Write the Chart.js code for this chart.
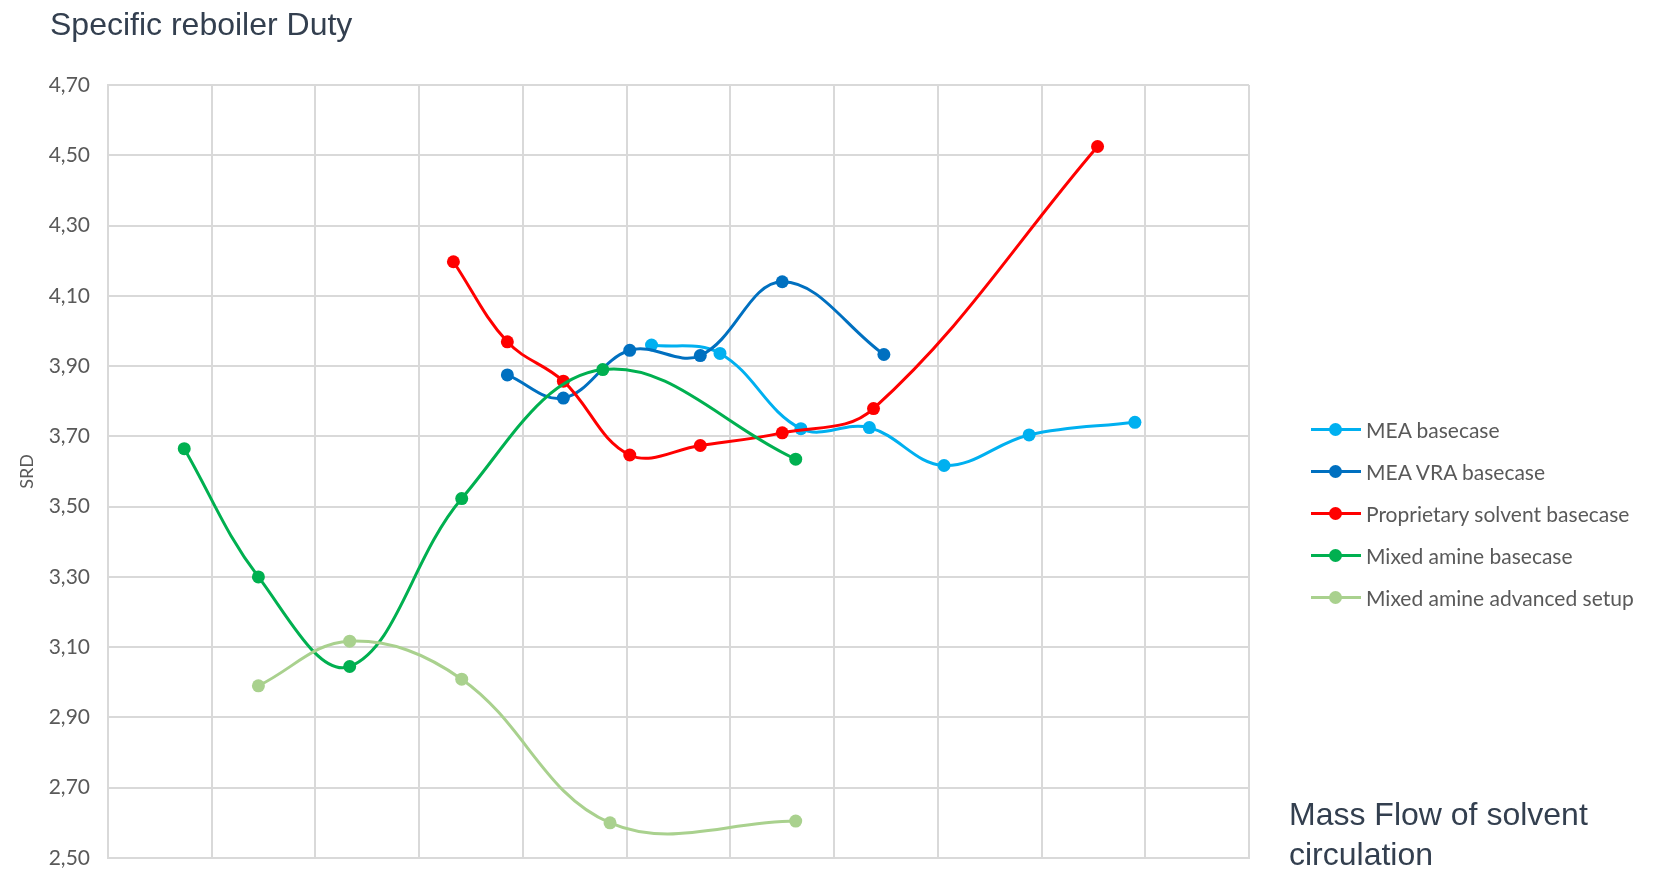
<!DOCTYPE html>
<html>
<head>
<meta charset="utf-8">
<script src="https://cdn.jsdelivr.net/npm/chart.js@4/dist/chart.umd.min.js"></script>
<style>
  body { margin: 0; background: #fff; }
  #wrap { position: relative; width: 1660px; height: 870px; overflow: hidden; }
  #myChart { position: absolute; left: 0; top: 0; }
  .bigText { position: absolute; font-family: "Liberation Sans", Arial, sans-serif; font-size: 32px; line-height: 40px; color: #333f4f; white-space: nowrap; }
  #legend { position: absolute; left: 1311px; top: 408px; font-family: Lato, sans-serif; font-size: 21px; color: #595959; }
  .item { position: relative; height: 42.1px; display: flex; align-items: center; white-space: nowrap; }
  .swatch { position: relative; width: 50px; height: 3px; margin-right: 5px; }
  .swatch span { position: absolute; left: 18px; top: -5px; width: 13px; height: 13px; border-radius: 50%; }
</style>
</head>
<body>
<div id="wrap">
  <canvas id="myChart" width="1660" height="870"></canvas>
  <div class="bigText" style="left:50px; top:4px;">Specific reboiler Duty</div>
  <div class="bigText" style="left:1289px; top:794px;">Mass Flow of solvent<br>circulation</div>
  <div id="legend"></div>
</div>
<script>
// Series names and colours
const seriesNames = ['MEA basecase', 'MEA VRA basecase', 'Proprietary solvent basecase', 'Mixed amine basecase', 'Mixed amine advanced setup'];
const seriesColors = ['#00B0F0', '#0070C0', '#FF0000', '#00B050', '#A9D18E'];

// Mass flow positions (x, in grid columns) and SRD values
const meaX = [5.24, 5.90, 6.68, 7.34, 8.06, 8.88, 9.90];
const meaY = [3.96, 3.936, 3.722, 3.725, 3.617, 3.704, 3.74];

const vraX = [3.85, 4.39, 5.03, 5.71, 6.50, 7.48];
const vraY = [3.875, 3.809, 3.945, 3.93, 4.14, 3.933];

const propX = [3.33, 3.85, 4.39, 5.03, 5.71, 6.50, 7.38, 9.54];
const propY = [4.197, 3.969, 3.857, 3.647, 3.674, 3.71, 3.779, 4.525];

const mixX = [0.735, 1.45, 2.33, 3.41, 4.77, 6.63];
const mixY = [3.665, 3.30, 3.045, 3.523, 3.89, 3.635];

const advX = [1.45, 2.33, 3.41, 4.84, 6.63];
const advY = [2.99, 3.117, 3.009, 2.60, 2.605];

// Y axis tick labels
const yTicks = ['2,50', '2,70', '2,90', '3,10', '3,30', '3,50', '3,70', '3,90', '4,10', '4,30', '4,50', '4,70'];

const xs = [meaX, vraX, propX, mixX, advX];
const ys = [meaY, vraY, propY, mixY, advY];

const datasets = seriesNames.map((name, i) => ({
    label: name,
    data: xs[i].map((x, j) => ({ x: x, y: ys[i][j] })),
    borderColor: seriesColors[i],
    backgroundColor: seriesColors[i],
    pointBackgroundColor: seriesColors[i],
    pointBorderWidth: 0,
    pointRadius: 6.5,
    borderWidth: 3,
    tension: 0.38,
    fill: false,
    order: seriesNames.length - i
}));

// HTML legend with line + dot swatch
const legend = document.getElementById('legend');
seriesNames.forEach((name, i) => {
    const row = document.createElement('div');
    row.className = 'item';
    row.innerHTML = '<div class="swatch" style="background:' + seriesColors[i] + '"><span style="background:' + seriesColors[i] + '"></span></div>' + name;
    legend.appendChild(row);
});

const ctx = document.getElementById('myChart').getContext('2d');

new Chart(ctx, {
    type: 'line',
    data: { datasets: datasets },
    options: {
        responsive: false,
        animation: false,
        devicePixelRatio: 1,
        layout: { padding: { top: 85, right: 411, bottom: 12, left: 0 } },
        plugins: {
            legend: { display: false },
            tooltip: { enabled: false }
        },
        scales: {
            x: {
                type: 'linear',
                min: 0,
                max: 11,
                afterFit: function (scale) { scale.height = 0; },
                ticks: { display: false, stepSize: 1 },
                grid: { color: '#D9D9D9', lineWidth: 2, drawTicks: false },
                border: { color: '#D9D9D9', width: 2 }
            },
            y: {
                min: 2.5,
                max: 4.7,
                afterFit: function (scale) {
                    scale.width = 108;
                    scale.paddingBottom = 0; // keep the tick padding from pushing the plot up
                },
                ticks: {
                    stepSize: 0.2,
                    padding: 18,
                    color: '#595959',
                    font: { family: 'Lato', size: 21 },
                    callback: function (value) {
                        return yTicks[Math.round((value - 2.5) / 0.2)];
                    }
                },
                grid: { color: '#D9D9D9', lineWidth: 2, drawTicks: false },
                border: { color: '#D9D9D9', width: 2 },
                title: {
                    display: true,
                    text: 'SRD',
                    color: '#595959',
                    font: { family: 'Lato', size: 18 },
                    padding: { top: 16, bottom: 0 }
                }
            }
        }
    }
});
</script>
</body>
</html>
